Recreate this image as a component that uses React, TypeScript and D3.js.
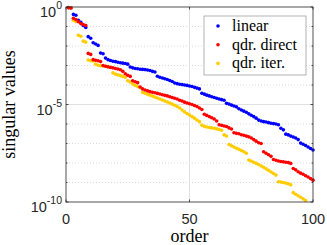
import React from "react";
import * as d3 from "d3";

// log10 of singular values, order 1..100
const linearLog10 = [
  -0.03, -0.05, -0.38, -0.42, -0.68, -0.78, -0.95, -1.05, -1.52, -1.6,
  -1.83, -1.9, -1.97, -2.36, -2.4, -2.62, -2.7, -2.74, -2.78, -2.8,
  -2.83, -2.86, -2.88, -2.9, -2.93, -3.08, -3.12, -3.15, -3.17, -3.19,
  -3.2, -3.21, -3.23, -3.26, -3.3, -3.33, -3.55, -3.6, -3.64, -3.68,
  -3.72, -3.77, -3.82, -3.9, -3.93, -3.96, -3.98, -4.0, -4.02, -4.05,
  -4.08, -4.12, -4.16, -4.2, -4.42, -4.47, -4.52, -4.56, -4.6, -4.64,
  -4.68, -4.72, -4.75, -4.78, -4.94, -4.98, -5.03, -5.08, -5.12, -5.22,
  -5.28, -5.34, -5.4, -5.48, -5.55, -5.62, -5.7, -5.8, -5.85, -5.88,
  -5.9, -5.93, -5.96, -5.98, -6.0, -6.04, -6.22, -6.3, -6.52, -6.56,
  -6.62, -6.67, -6.72, -6.8, -6.98, -7.04, -7.1, -7.18, -7.26, -7.33,
];
const qdrDirectLog10 = [
  -0.04, -0.05, -0.58, -0.64, -0.75, -0.85, -0.9, -0.95, -2.38, -2.43,
  -2.7, -2.73, -2.76, -2.8, -3.0, -3.04, -3.07, -3.1, -3.12, -3.15,
  -3.18, -3.22, -3.3, -3.42, -3.5, -3.56, -3.78, -3.83, -3.88, -4.1,
  -4.2, -4.26, -4.3, -4.34, -4.37, -4.4, -4.43, -4.46, -4.5, -4.53,
  -4.56, -4.6, -4.64, -4.68, -4.72, -4.78, -4.82, -4.88, -4.92, -4.96,
  -5.0, -5.05, -5.1, -5.18, -5.26, -5.5, -5.56, -5.62, -5.68, -5.74,
  -5.85, -6.04, -6.07, -6.1, -6.13, -6.2, -6.26, -6.45, -6.48, -6.5,
  -6.55, -6.58, -6.62, -6.66, -6.72, -6.8, -6.88, -6.96, -7.0, -7.42,
  -7.5, -7.58, -7.66, -7.82, -7.86, -7.9, -7.92, -7.94, -7.96, -7.98,
  -8.02, -8.28, -8.35, -8.45, -8.52, -8.58, -8.65, -8.72, -8.8, -8.88,
];
const qdrIterLog10 = [
  -0.04, -0.05, -0.68, -0.75, -1.45, -1.5, -1.75, -1.8, -2.72, -2.75,
  -2.77, -2.93, -2.99, -3.01, -3.03, -3.04, -3.06, -3.08, -3.38, -3.44,
  -3.48, -3.52, -3.56, -3.6, -3.78, -3.85, -3.95, -4.02, -4.08, -4.14,
  -4.38, -4.42, -4.47, -4.52, -4.57, -4.62, -4.67, -4.72, -4.77, -4.82,
  -4.87, -4.92, -4.98, -5.04, -5.1, -5.18, -5.28, -5.38, -5.46, -5.54,
  -5.62, -5.7, -5.8, -5.88, -6.06, -6.12, -6.15, -6.18, -6.2, -6.22,
  -6.25, -6.28, -6.32, -6.56, -6.62, -7.05, -7.12, -7.18, -7.24, -7.3,
  -7.36, -7.42, -7.5, -7.85, -7.9, -7.96, -8.02, -8.08, -8.15, -8.22,
  -8.3, -8.38, -8.46, -8.54, -8.62, -8.96, -8.98, -9.0, -9.03, -9.07,
  -9.12, -9.52, -9.6, -9.68, -9.76, -9.84, -9.92, -10.1, -10.2, -10.3,
];

const seriesNames = ["linear", "qdr. direct", "qdr. iter."];
const seriesColors = ["#0000ff", "#ff0000", "#ffcc00"];
const xTicks = [0, 50, 100];
const yMajorExp = [0, -5, -10];

const W = 327, H = 245;
const L = 66, R = 313, T = 7, B = 202;

export default function App() {
  const x = d3.scaleLinear().domain([0, 100]).range([L, R]);
  const y = d3.scaleLog().domain([1e-10, 1]).range([B, T]);
  const decades = d3.range(-10, 1);
  const axisColor = "#262626";
  const sans = "'Liberation Sans', Arial, sans-serif";
  const serif = "'Liberation Serif', 'Times New Roman', serif";
  const allSeries = [linearLog10, qdrDirectLog10, qdrIterLog10];
  const drawOrder = [0, 2, 1];

  return (
    <svg width={W} height={H} style={{ position: "absolute", left: 0, top: 0, background: "#fff" }}>
      <defs>
        <clipPath id="plotclip">
          <rect x={L} y={T - 2} width={R - L + 2} height={B - T + 2} />
        </clipPath>
      </defs>
      {/* grid */}
      {decades.map((e) =>
        e % 5 === 0 ? null : (
          <line key={"mg" + e} x1={L} x2={R} y1={y(Math.pow(10, e))} y2={y(Math.pow(10, e))}
            stroke="#d0d0d0" strokeWidth={0.8} strokeDasharray="1,2" />
        )
      )}
      {yMajorExp.filter((e) => e !== 0 && e !== -10).map((e) => (
        <line key={"g" + e} x1={L} x2={R} y1={y(Math.pow(10, e))} y2={y(Math.pow(10, e))}
          stroke="#e0e0e0" strokeWidth={1} />
      ))}
      {xTicks.filter((t) => t !== 0 && t !== 100).map((t) => (
        <line key={"gx" + t} x1={x(t)} x2={x(t)} y1={T} y2={B} stroke="#e0e0e0" strokeWidth={1} />
      ))}
      {/* data */}
      <g clipPath="url(#plotclip)">
        {drawOrder.map((si) =>
          allSeries[si].map((v, i) => (
            <circle key={si + "-" + i} cx={x(i + 1)} cy={y(Math.pow(10, v))} r={1.8} fill={seriesColors[si]} />
          ))
        )}
      </g>
      {/* box */}
      <rect x={L} y={T} width={R - L} height={B - T} fill="none" stroke={axisColor} strokeWidth={0.8} />
      {/* ticks */}
      {decades.map((e) => {
        const yy = y(Math.pow(10, e));
        const len = e % 5 === 0 ? 2.5 : 1.5;
        return (
          <g key={"t" + e}>
            <line x1={L} x2={L + len} y1={yy} y2={yy} stroke={axisColor} strokeWidth={0.8} />
            <line x1={R} x2={R - len} y1={yy} y2={yy} stroke={axisColor} strokeWidth={0.8} />
          </g>
        );
      })}
      {xTicks.map((t) => (
        <g key={"xt" + t}>
          <line x1={x(t)} x2={x(t)} y1={B} y2={B - 2.5} stroke={axisColor} strokeWidth={0.8} />
          <line x1={x(t)} x2={x(t)} y1={T} y2={T + 2.5} stroke={axisColor} strokeWidth={0.8} />
          <text x={x(t)} y={B + 22} textAnchor="middle" fontFamily={sans} fontSize={14.5} fill={axisColor}>
            {t}
          </text>
        </g>
      ))}
      {yMajorExp.map((e) => (
        <text key={"yl" + e} x={62} y={y(Math.pow(10, e)) + 10} textAnchor="end" fontFamily={sans} fill={axisColor}>
          <tspan fontSize={14.5}>10</tspan>
          <tspan fontSize={10.5} dy={-8}>{e === 0 ? "0" : "-" + Math.abs(e)}</tspan>
        </text>
      ))}
      {/* axis labels */}
      <text x={(L + R) / 2} y={242} textAnchor="middle" fontFamily={serif} fontSize={18} fill="#000">
        order
      </text>
      <text transform={`translate(15,${(T + B) / 2}) rotate(-90)`} textAnchor="middle" fontFamily={serif} fontSize={18} fill="#000">
        singular values
      </text>
      {/* legend */}
      <rect x={204} y={16} width={102} height={59} fill="#fff" stroke="#a0a0a0" strokeWidth={0.8} />
      {seriesNames.map((n, i) => (
        <g key={"lg" + i}>
          <circle cx={218} cy={26 + i * 18.7} r={1.8} fill={seriesColors[i]} />
          <text x={232} y={31 + i * 18.7} fontFamily={serif} fontSize={16} fill="#000">
            {n}
          </text>
        </g>
      ))}
    </svg>
  );
}
